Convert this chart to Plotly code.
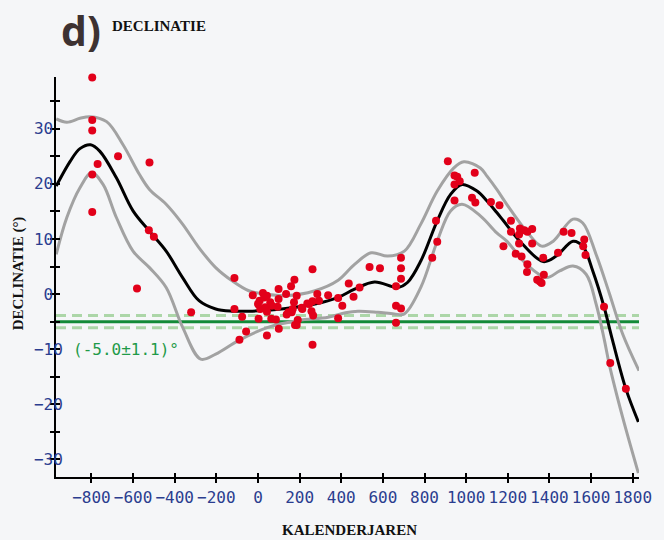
import plotly.graph_objects as go

# --- observations: calendar year and declination (degrees) ---
obs_year = [
    -796, -796, -796, -770, -796, -796, -672, -521, -524, -500, -581, -321,
    -113, -113, -76, -89, -57, -25, 3, 24, 8, 0, 11, 30, 43, 35, 43, 59, 67,
    64, 86, 99, 99, 94, 100, 43, 135, 159, 175, 173, 167, 146, 138, 162, 186,
    178, 191, 213, 237, 262, 262, 257, 265, 262, 285, 293, 337, 385, 385, 405,
    436, 459, 488, 536, 586, 687, 687, 687, 663, 663, 687, 663, 837, 861, 855,
    912, 944, 957, 969, 944, 944, 1041, 1028, 1044, 1119, 1160, 1215, 1215,
    1179, 1258, 1254, 1279, 1294, 1317, 1254, 1317, 1238, 1266, 1294, 1292,
    1341, 1354, 1362, 1373, 1370, 1441, 1468, 1506, 1567, 1562, 1573, 1662,
    1692, 1767, 246, 210, 186,
]
obs_decl = [
    39.3, 31.6, 29.7, 23.6, 21.7, 14.9, 25.0, 23.9, 11.6, 10.4, 1.0, -3.3,
    2.9, -2.7, -4.1, -8.3, -6.8, -0.2, -4.5, 0.2, -1.2, -1.8, -2.7, -0.6, -0.3,
    -2.4, -3.2, -1.5, -2.1, -4.5, -4.6, 0.9, -0.9, -2.3, -6.3, -7.5, 0.0, 1.4,
    2.6, -1.5, -2.7, -3.3, -3.7, -3.3, -0.3, -5.6, -4.7, -2.7, -1.7, 4.5, -1.3,
    -3.1, -3.9, -9.2, 0.0, -1.2, -0.2, -0.7, -4.4, -2.1, 1.9, -0.5, 1.2, 4.9,
    4.7, 6.6, 4.7, 2.8, 1.4, -2.1, -2.6, -5.2, 6.6, 9.5, 13.3, 24.1, 21.5,
    21.3, 20.5, 19.9, 17.0, 22.0, 17.5, 16.6, 16.7, 16.1, 13.3, 11.3, 8.7,
    11.9, 10.8, 11.6, 11.3, 11.8, 9.2, 9.2, 7.3, 6.8, 5.4, 4.0, 2.6, 2.3, 2.0,
    3.5, 6.6, 7.5, 11.3, 11.1, 9.9, 8.7, 7.1, -2.3, -12.5, -17.2, -1.8, -2.5,
    -5.6,
]

# --- fitted curve (mean) ---
fit_year = [-969, -902, -855, -804, -759, -680, -600, -521, -441, -362, -283,
            -203, -124, -44, 114, 274, 385, 464, 560, 671, 718, 782, 861, 925,
            980, 1052, 1100, 1147, 1179, 1258, 1370, 1433, 1513, 1560, 1608,
            1662, 1703, 1767, 1827]
fit_mean = [19.6, 24.1, 26.4, 27.1, 25.9, 21.1, 15.1, 11.4, 7.8, 3.0, -1.2,
            -2.7, -3.1, -3.1, -2.7, -1.8, -0.6, 0.9, 2.2, 1.2, 2.1, 6.0, 13.3,
            18.1, 19.9, 18.7, 16.9, 14.8, 13.3, 9.6, 5.9, 6.9, 9.6, 8.7, 4.2,
            -2.3, -8.4, -17.2, -23.2]

# --- upper envelope ---
up_year = [-969, -918, -855, -807, -727, -648, -569, -521, -441, -362, -283,
           -203, -124, -44, 35, 131, 274, 385, 464, 544, 623, 703, 782, 861,
           941, 989, 1068, 1100, 1147, 1195, 1290, 1362, 1418, 1513, 1560,
           1624, 1687, 1751, 1830]
up_decl = [31.8, 31.2, 31.9, 32.2, 31.3, 27.1, 21.7, 19.0, 16.3, 12.7, 8.4,
           4.8, 2.4, 0.6, 0.0, -0.3, 0.6, 2.5, 5.4, 7.5, 6.9, 7.8, 12.7, 18.7,
           22.9, 24.0, 22.9, 21.4, 19.0, 16.3, 11.4, 8.7, 9.6, 13.6, 12.9, 7.2,
           0.2, -7.2, -13.9]

# --- lower envelope ---
lo_year = [-969, -918, -855, -799, -744, -680, -600, -521, -441, -362, -275,
           -203, -92, 51, 194, 337, 420, 480, 575, 655, 703, 782, 861, 925,
           980, 1068, 1147, 1195, 1290, 1386, 1449, 1513, 1576, 1624, 1664,
           1687, 1751, 1827]
lo_decl = [7.2, 13.9, 19.3, 22.0, 19.9, 13.9, 7.8, 4.8, 1.2, -6.0, -11.8,
           -10.9, -8.4, -6.0, -4.8, -4.2, -3.4, -3.1, -3.3, -3.6, -3.6, 1.2,
           9.6, 15.1, 16.3, 14.2, 11.1, 9.6, 5.4, 3.0, 4.2, 5.1, 3.6, -1.8,
           -8.4, -12.7, -22.3, -32.5]

# --- reference level (mean +/- spread) ---
ref_level = -5.0
ref_spread = 1.1

# --- axis ticks ---
x_ticks = list(range(-800, 1801, 200))
x_labels = [str(v).replace("-", "\u2212") for v in x_ticks]
y_ticks = list(range(-30, 36, 5))
y_labels = [(str(v).replace("-", "\u2212") + ("\u00a0" if v >= 0 else ""))
            if v % 10 == 0 else "" for v in y_ticks]

BG = "#f5f6f8"
TICK_BLUE = "#2b3d8f"
MONO = "DejaVu Sans Mono"
SERIF = "Liberation Serif"
X_RANGE = [-970, 1830]
Y_RANGE = [-33.2, 39.4]

fig = go.Figure()

fig.add_trace(go.Scatter(x=up_year, y=up_decl, mode="lines",
                         line=dict(color="#a2a2a2", width=3, shape="spline"),
                         hoverinfo="skip"))
fig.add_trace(go.Scatter(x=lo_year, y=lo_decl, mode="lines",
                         line=dict(color="#a2a2a2", width=3, shape="spline"),
                         hoverinfo="skip"))
fig.add_trace(go.Scatter(x=fit_year, y=fit_mean, mode="lines",
                         line=dict(color="black", width=3, shape="spline"),
                         hoverinfo="skip"))
fig.add_trace(go.Scatter(x=obs_year, y=obs_decl, mode="markers",
                         cliponaxis=False,
                         marker=dict(color="#e2001a", size=8, line=dict(width=0))))

# horizontal reference level with its spread
fig.add_shape(type="line", xref="paper", x0=0, x1=1, yref="y",
              y0=ref_level + ref_spread, y1=ref_level + ref_spread,
              line=dict(color="#acd6a8", width=3, dash="10px,6px"), layer="below")
fig.add_shape(type="line", xref="paper", x0=0, x1=1, yref="y",
              y0=ref_level - ref_spread, y1=ref_level - ref_spread,
              line=dict(color="#acd6a8", width=3, dash="10px,6px"), layer="below")
fig.add_shape(type="line", xref="paper", x0=0, x1=1, yref="y",
              y0=ref_level, y1=ref_level,
              line=dict(color="#138a38", width=3), layer="below")

fig.add_annotation(x=-900, y=-10.1, xref="x", yref="y", xanchor="left",
                   yanchor="middle", showarrow=False,
                   text=f"({ref_level:.1f}\u00b1{ref_spread:.1f})\u00b0",
                   font=dict(family=MONO, size=16, color="#1f9a48"))

# panel label and heading
fig.add_annotation(x=0.005, y=1.1175, xref="paper", yref="paper",
                   xanchor="left", yanchor="middle", showarrow=False,
                   text="<b>d)</b>",
                   font=dict(family="Open Sans", size=41, color="#3d3232"))
fig.add_annotation(x=0.0925, y=1.127, xref="paper", yref="paper",
                   xanchor="left", yanchor="middle", showarrow=False,
                   text="<b>DECLINATIE</b>",
                   font=dict(family=SERIF, size=15, color="#111111"))

# axis titles
fig.add_annotation(x=-0.0647, y=0.51, xref="paper", yref="paper",
                   xanchor="center", yanchor="middle", showarrow=False,
                   textangle=-90, text="<b>DECLINATIE (\u00b0)</b>",
                   font=dict(family=SERIF, size=15, color="#111111"))
fig.add_annotation(x=0.504, y=-0.132, xref="paper", yref="paper",
                   xanchor="center", yanchor="middle", showarrow=False,
                   text="<b>KALENDERJAREN</b>",
                   font=dict(family=SERIF, size=15, color="#111111"))

fig.update_layout(
    width=664, height=540,
    margin=dict(l=56, r=21, t=77, b=63),
    paper_bgcolor=BG, plot_bgcolor=BG,
    showlegend=False,
    xaxis=dict(range=X_RANGE, showgrid=False, zeroline=False,
               showline=True, linecolor="black", linewidth=2,
               tickmode="array", tickvals=x_ticks, ticktext=x_labels,
               ticks="outside", ticklen=4, tickwidth=1.5, tickcolor="black",
               ticklabelstandoff=1,
               tickfont=dict(family=MONO, size=16, color=TICK_BLUE)),
    yaxis=dict(range=Y_RANGE, showgrid=False, zeroline=False,
               showline=True, linecolor="black", linewidth=2,
               tickmode="array", tickvals=y_ticks, ticktext=y_labels,
               ticks="outside", ticklen=4, tickwidth=1.5, tickcolor="black",
               ticklabelstandoff=-16,
               tickfont=dict(family=MONO, size=16, color=TICK_BLUE)),
    # companion axes supply the inner half of each crossing tick
    xaxis2=dict(range=X_RANGE, overlaying="x", side="bottom", anchor="y",
                showgrid=False, zeroline=False, showline=False,
                tickmode="array", tickvals=x_ticks, showticklabels=False,
                ticks="inside", ticklen=4, tickwidth=1.5, tickcolor="black"),
    yaxis2=dict(range=Y_RANGE, overlaying="y", side="left", anchor="x",
                showgrid=False, zeroline=False, showline=False,
                tickmode="array", tickvals=y_ticks, showticklabels=False,
                ticks="inside", ticklen=4, tickwidth=1.5, tickcolor="black"),
)

# an invisible trace keeps the companion axes drawn
fig.add_trace(go.Scatter(x=[X_RANGE[0]], y=[Y_RANGE[0]], xaxis="x2", yaxis="y2",
                         mode="markers", marker=dict(opacity=0), hoverinfo="skip"))

fig.write_html("out.html")
